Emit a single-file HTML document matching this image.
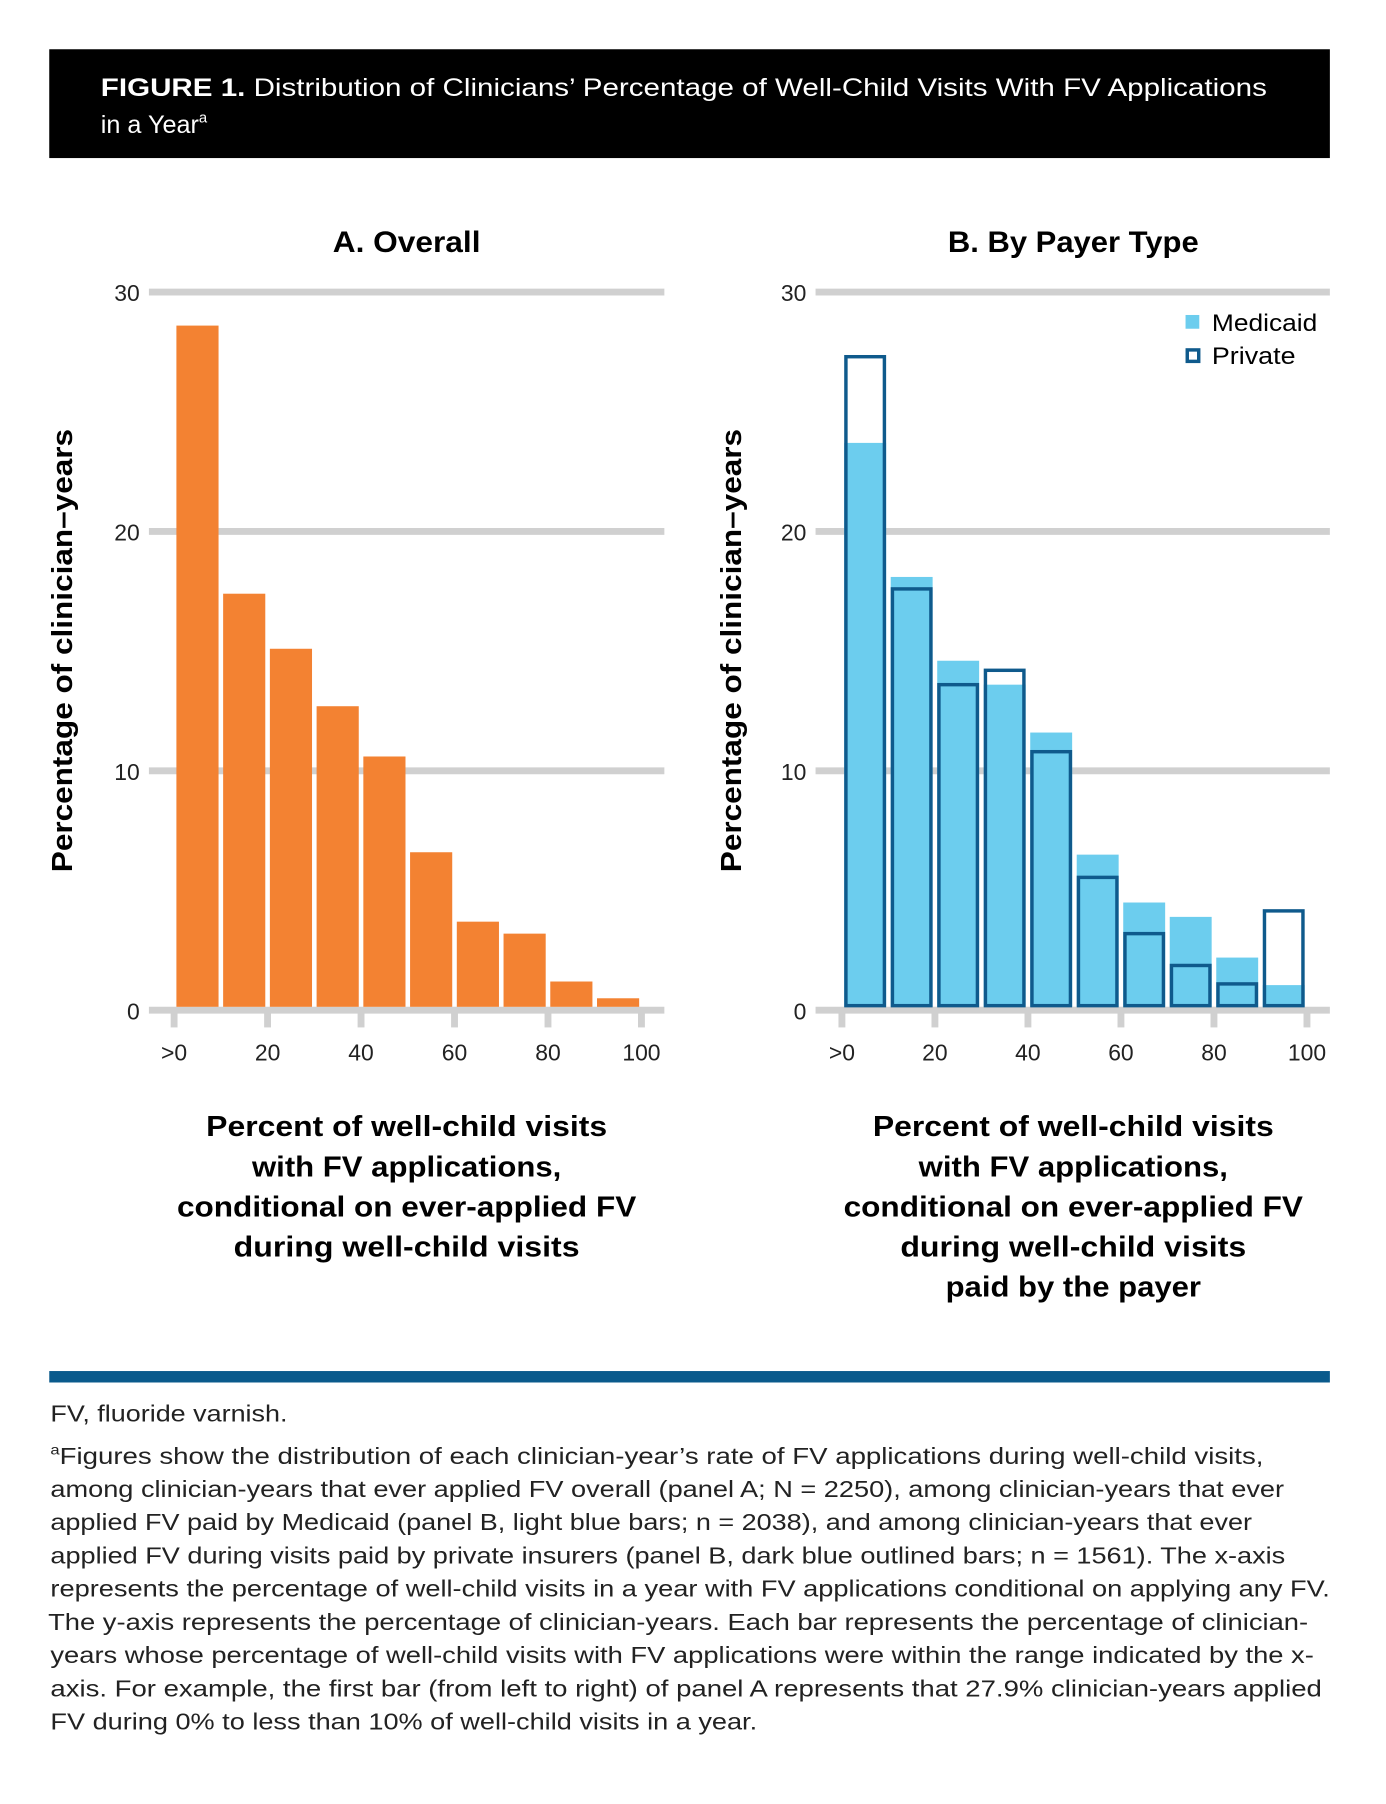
<!DOCTYPE html>
<html><head><meta charset="utf-8"><style>
html,body{margin:0;padding:0;background:#fff}
svg{display:block}
text{font-family:"Liberation Sans","DejaVu Sans",sans-serif}
</style></head><body>
<svg id="fig" width="1386" height="1804" viewBox="0 0 1210 1575" preserveAspectRatio="none" xmlns="http://www.w3.org/2000/svg">
<rect x="43" y="43" width="1118" height="95" fill="#000"/>
<text x="88" y="84" font-size="22" fill="#fff" textLength="1018" lengthAdjust="spacingAndGlyphs"><tspan font-weight="bold">FIGURE 1.</tspan> Distribution of Clinicians’ Percentage of Well-Child Visits With FV Applications</text>
<text x="88" y="116" font-size="22" fill="#fff">in a Year<tspan font-size="13" dy="-9">a</tspan></text>

<text x="355" y="220" font-size="26" font-weight="bold" text-anchor="middle" textLength="129" lengthAdjust="spacingAndGlyphs">A. Overall</text>
<text x="937" y="220" font-size="26" font-weight="bold" text-anchor="middle" textLength="219" lengthAdjust="spacingAndGlyphs">B. By Payer Type</text>

<g id="panelA"></g>
<g id="panelB"></g>

<text transform="translate(63,568) rotate(-90)" font-size="25" font-weight="bold" text-anchor="middle" textLength="387" lengthAdjust="spacingAndGlyphs">Percentage of clinician–years</text>
<text transform="translate(647,568) rotate(-90)" font-size="25" font-weight="bold" text-anchor="middle" textLength="387" lengthAdjust="spacingAndGlyphs">Percentage of clinician–years</text>

<g font-size="25" font-weight="bold" text-anchor="middle">
<text x="355" y="992" textLength="350" lengthAdjust="spacingAndGlyphs">Percent of well-child visits</text>
<text x="355" y="1027" textLength="270" lengthAdjust="spacingAndGlyphs">with FV applications,</text>
<text x="355" y="1062" textLength="401" lengthAdjust="spacingAndGlyphs">conditional on ever-applied FV</text>
<text x="355" y="1097" textLength="302" lengthAdjust="spacingAndGlyphs">during well-child visits</text>
</g>
<g font-size="25" font-weight="bold" text-anchor="middle">
<text x="937" y="992" textLength="350" lengthAdjust="spacingAndGlyphs">Percent of well-child visits</text>
<text x="937" y="1027" textLength="270" lengthAdjust="spacingAndGlyphs">with FV applications,</text>
<text x="937" y="1062" textLength="401" lengthAdjust="spacingAndGlyphs">conditional on ever-applied FV</text>
<text x="937" y="1097" textLength="302" lengthAdjust="spacingAndGlyphs">during well-child visits</text>
<text x="937" y="1132" textLength="223" lengthAdjust="spacingAndGlyphs">paid by the payer</text>
</g>

<g>
<rect x="1035" y="275" width="12" height="12" fill="#6ccdee"/>
<text x="1058" y="289" font-size="21" textLength="92" lengthAdjust="spacingAndGlyphs">Medicaid</text>
<rect x="1036.5" y="305.5" width="10" height="10" fill="none" stroke="#0f5a8c" stroke-width="3"/>
<text x="1058" y="318" font-size="21" textLength="73" lengthAdjust="spacingAndGlyphs">Private</text>
</g>

<rect x="43" y="1197" width="1118" height="10" fill="#0a5a8c"/>
<g font-size="20" fill="#222">
<text x="44" y="1241" textLength="207" lengthAdjust="spacingAndGlyphs">FV, fluoride varnish.</text>
<text x="44" y="1278" textLength="1059" lengthAdjust="spacingAndGlyphs"><tspan font-size="12" dy="-8">a</tspan><tspan dy="8">Figures show the distribution of each clinician-year’s rate of FV applications during well-child visits,</tspan></text>
<text x="44" y="1307" textLength="1077" lengthAdjust="spacingAndGlyphs">among clinician-years that ever applied FV overall (panel A; N = 2250), among clinician-years that ever</text>
<text x="44" y="1336" textLength="1049" lengthAdjust="spacingAndGlyphs">applied FV paid by Medicaid (panel B, light blue bars; n = 2038), and among clinician-years that ever</text>
<text x="44" y="1365" textLength="1078" lengthAdjust="spacingAndGlyphs">applied FV during visits paid by private insurers (panel B, dark blue outlined bars; n = 1561). The x-axis</text>
<text x="44" y="1394" textLength="1117" lengthAdjust="spacingAndGlyphs">represents the percentage of well-child visits in a year with FV applications conditional on applying any FV.</text>
<text x="42" y="1423" textLength="1100" lengthAdjust="spacingAndGlyphs">The y-axis represents the percentage of clinician-years. Each bar represents the percentage of clinician-</text>
<text x="44" y="1452" textLength="1103" lengthAdjust="spacingAndGlyphs">years whose percentage of well-child visits with FV applications were within the range indicated by the x-</text>
<text x="44" y="1481" textLength="1110" lengthAdjust="spacingAndGlyphs">axis. For example, the first bar (from left to right) of panel A represents that 27.9% clinician-years applied</text>
<text x="44" y="1510" textLength="617" lengthAdjust="spacingAndGlyphs">FV during 0% to less than 10% of well-child visits in a year.</text>
</g>
</svg>
<script>
// Data
const binStarts = [0,10,20,30,40,50,60,70,80,90];
const overallValues = [28.6,17.4,15.1,12.7,10.6,6.6,3.7,3.2,1.2,0.5];
const medicaidValues = [23.7,18.1,14.6,13.6,11.6,6.5,4.5,3.9,2.2,1.05];
const privateValues = [27.3,17.6,13.6,14.2,10.8,5.55,3.2,1.87,1.1,4.15];
const yTicks = [0,10,20,30];
const xTicks = [0,20,40,60,80,100];
const xTickLabels = [">0","20","40","60","80","100"];

const NS = "http://www.w3.org/2000/svg";
function mk(tag, attrs, parent){const e=document.createElementNS(NS,tag);for(const k in attrs)e.setAttribute(k,attrs[k]);parent.appendChild(e);return e;}

function axes(g, x0, x100, gridL, gridR, prefix){
  const y = v => 882 - v*(882-255)/30;
  const x = v => x0 + v*(x100-x0)/100;
  yTicks.forEach(t=>{
    const l=mk('line',{x1:gridL,x2:gridR,y1:y(t),y2:y(t),stroke:'#d0d0d0','stroke-width':6},g);
    
    
    const tx=mk('text',{x:gridL-8,y:y(t)+8,'font-size':20,'text-anchor':'end',fill:'#222'},g);
    tx.textContent=t;
    
    
  });
  xTicks.forEach((t,i)=>{
    const l=mk('line',{x1:x(t),x2:x(t),y1:882,y2:897,stroke:'#d0d0d0','stroke-width':6},g);
    
    
    const tx=mk('text',{x:x(t),y:926,'font-size':20,'text-anchor':'middle',fill:'#222'},g);
    tx.textContent=xTickLabels[i];
    
    
  });
  return {x,y};
}

const gA=document.getElementById('panelA');
const A=axes(gA,152,560,130,580,'panel-a');
binStarts.forEach((b,i)=>{
  const r=mk('rect',{x:A.x(b)+2,y:A.y(overallValues[i]),width:A.x(b+10)-A.x(b)-4,height:A.y(0)-A.y(overallValues[i])-3,fill:'#f38232'},gA);
  
  
});

const gB=document.getElementById('panelB');
const B=axes(gB,735,1141,712,1161,'panel-b');
binStarts.forEach((b,i)=>{
  const r=mk('rect',{x:B.x(b)+2,y:B.y(medicaidValues[i]),width:B.x(b+10)-B.x(b)-4,height:B.y(0)-B.y(medicaidValues[i])-3,fill:'#6ccdee'},gB);
  
  
});
binStarts.forEach((b,i)=>{
  const r=mk('rect',{x:B.x(b)+3.5,y:B.y(privateValues[i]),width:B.x(b+10)-B.x(b)-7,height:B.y(0)-B.y(privateValues[i])-4,fill:'none',stroke:'#0f5a8c','stroke-width':3},gB);
  
  
});
</script>
</body></html>
